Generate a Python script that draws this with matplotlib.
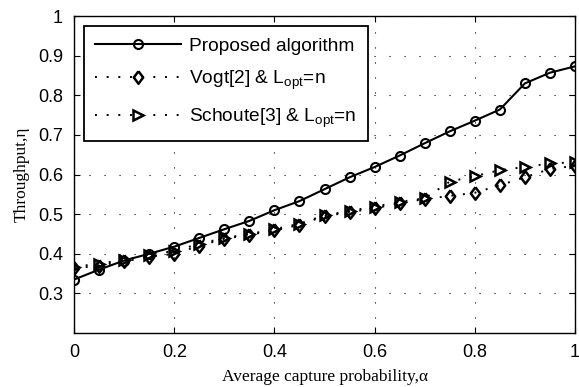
import numpy as np
import matplotlib
matplotlib.use("Agg")
import matplotlib.pyplot as plt

# =========================
# Data
# =========================
alpha = [0.0, 0.05, 0.1, 0.15, 0.2, 0.25, 0.3, 0.35, 0.4, 0.45, 0.5,
         0.55, 0.6, 0.65, 0.7, 0.75, 0.8, 0.85, 0.9, 0.95, 1.0]

proposed = [0.335, 0.360, 0.383, 0.400, 0.418, 0.440, 0.462, 0.483, 0.510, 0.533,
            0.563, 0.593, 0.619, 0.648, 0.679, 0.709, 0.736, 0.764, 0.830, 0.857, 0.873]

vogt = [0.363, 0.370, 0.381, 0.392, 0.400, 0.420, 0.438, 0.448, 0.459, 0.473,
        0.495, 0.505, 0.515, 0.528, 0.538, 0.546, 0.554, 0.573, 0.593, 0.614, 0.622]

schoute = [0.367, 0.375, 0.385, 0.398, 0.407, 0.425, 0.440, 0.450, 0.462, 0.476,
           0.497, 0.508, 0.519, 0.531, 0.540, 0.582, 0.596, 0.611, 0.619, 0.628, 0.631]

labels = ["Proposed algorithm",
          r"Vogt[2] & L$_\mathregular{opt}$=n",
          r"Schoute[3] & L$_\mathregular{opt}$=n"]

xticks = [0, 0.2, 0.4, 0.6, 0.8, 1]
xticklabels = ["0", "0.2", "0.4", "0.6", "0.8", "1"]
yticks = [0.3, 0.4, 0.5, 0.6, 0.7, 0.8, 0.9, 1.0]
yticklabels = ["0.3", "0.4", "0.5", "0.6", "0.7", "0.8", "0.9", "1"]

plt.rcParams["font.family"] = ["Liberation Sans", "DejaVu Sans"]
plt.rcParams["mathtext.default"] = "regular"

fig = plt.figure(figsize=(5.79, 3.87), dpi=100)
ax = fig.add_axes([0.128, 0.1395, 0.865, 0.819])

# MATLAB-style diamond (a bit taller than wide)
diamond = [(0, 1), (0.75, 0), (0, -1), (-0.75, 0), (0, 1)]
dotted = (0, (1, 5))

ax.plot(alpha, proposed, "k-", marker="o", ms=6.5, mfc="none", mew=1.5,
        lw=1.5, label=labels[0])
ax.plot(alpha, vogt, color="k", ls=dotted, marker=diamond, ms=9, mfc="none",
        mew=1.8, lw=1.4, label=labels[1])
ax.plot(alpha, schoute, color="k", ls=dotted, marker=">", ms=7.5, mfc="none",
        mew=1.8, lw=1.4, label=labels[2])

ax.set_xlim(0, 1)
ax.set_ylim(0.2, 1.0)
ax.set_xticks(xticks)
ax.set_xticklabels(xticklabels)
ax.set_yticks(yticks)
ax.set_yticklabels(yticklabels)
ax.tick_params(direction="in", top=True, right=True, labelsize=13, length=4,
               width=0.8, pad=8)

ax.grid(True, linestyle=(0, (1, 12.5)), color="k", linewidth=0.8)
for s in ax.spines.values():
    s.set_linewidth(1.0)

ax.set_xlabel("Average capture probability,\u03b1", family="Liberation Serif",
              fontsize=12.5, labelpad=6)
ax.set_ylabel("Throughput,\u03b7", family="Liberation Serif", fontsize=12.5,
              labelpad=6)

leg = ax.legend(loc="upper left", fontsize=13.8, handlelength=4.5,
                handletextpad=0.4, borderaxespad=0.5, fancybox=False,
                framealpha=1, edgecolor="k", labelspacing=0.75, borderpad=0.6)
leg.get_frame().set_linewidth(1.3)

fig.savefig("out.png", dpi=100)
